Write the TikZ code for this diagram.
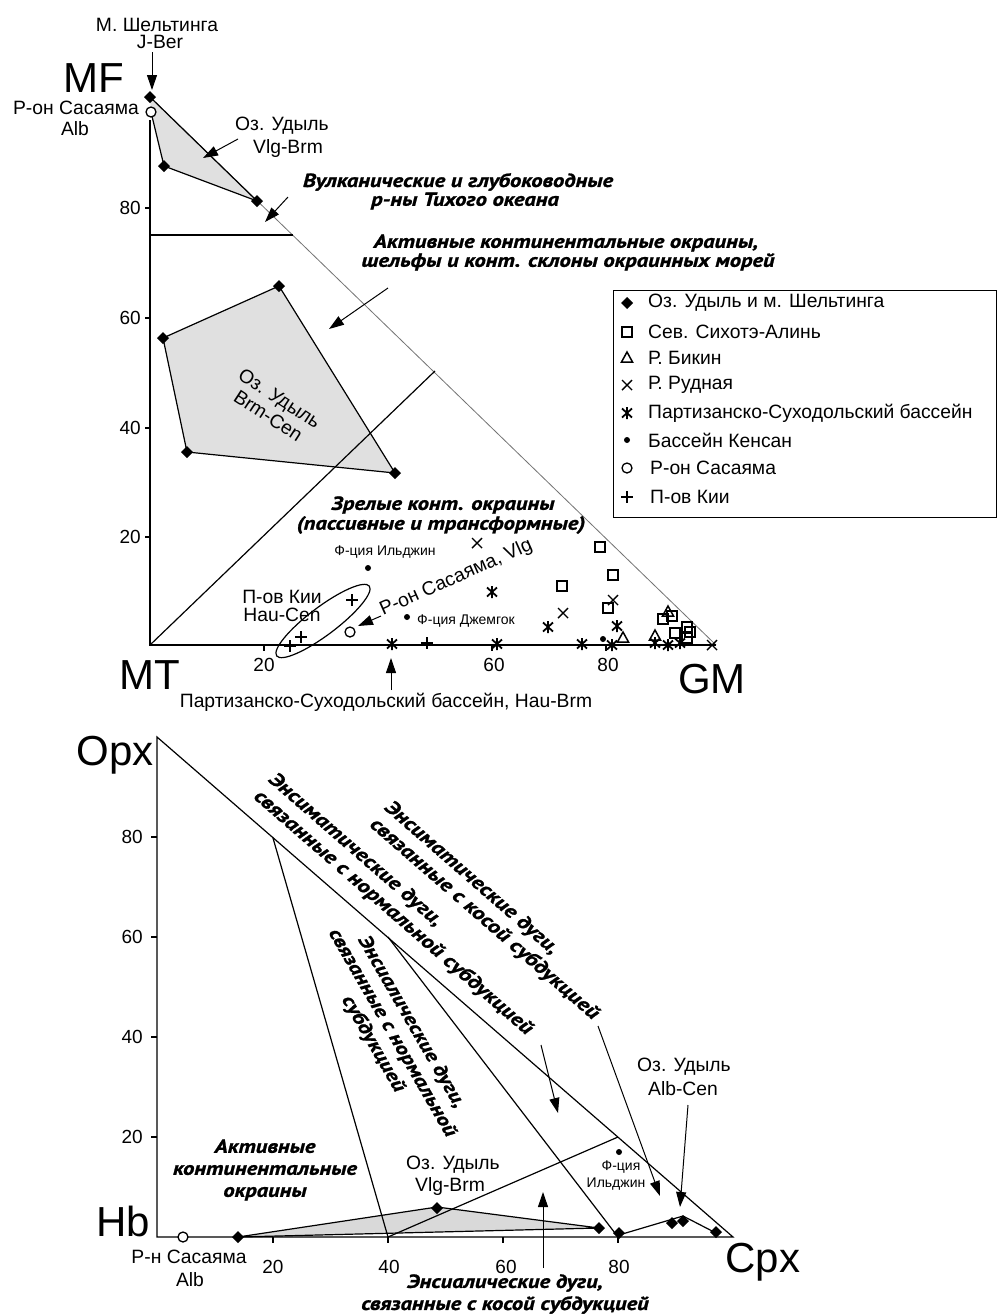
\documentclass[tikz,border=0pt]{standalone}
\usepackage{fontspec}
\setmainfont{Liberation Sans}
\newfontfamily\bifont[FakeStretch=1.19,FakeBold=1.2]{PT Sans}
\usetikzlibrary{arrows.meta}
\tikzset{
  lbl/.style={font=\fontsize{19.3}{21}\selectfont, inner sep=0pt},
  tk/.style={font=\fontsize{19}{21}\selectfont, inner sep=0pt},
  sml/.style={font=\fontsize{14}{16}\selectfont, inner sep=0pt},
  big/.style={font=\fontsize{42}{46}\selectfont, inner sep=0pt},
  bit/.style={font=\bifont\bfseries\itshape\fontsize{19}{22}\selectfont, inner sep=0pt},
  bitr/.style={font=\bifont\bfseries\itshape\fontsize{19.6}{22.5}\selectfont, inner sep=0pt},
  ax/.style={line width=1.2pt},
  hyp/.style={line width=0.8pt, black!55},
  poly/.style={line width=1.2pt},
  arr/.style={line width=1pt, -{Triangle[length=15pt,width=10pt]}},
  dmd/.pic={\fill (0,-6)--(6,0)--(0,6)--(-6,0)--cycle;},
  sqr/.pic={\draw[line width=1.6pt] (-5,-5) rectangle (5,5);},
  trg/.pic={\draw[line width=1.5pt] (0,-6)--(5.5,4)--(-5.5,4)--cycle;},
  crs/.pic={\draw[line width=1.4pt] (-5,-5)--(5,5) (-5,5)--(5,-5);},
  zhe/.pic={\draw[line width=1.8pt] (-5,-4.5)--(5,4.5) (-5,4.5)--(5,-4.5) (0,-6)--(0,6);},
  dt/.pic={\fill (0,0) circle[radius=3pt];},
  crc/.pic={\draw[line width=1.3pt, fill=white] (0,0) circle[radius=5pt];},
  pls/.pic={\draw[line width=1.5pt] (-6,0)--(6,0) (0,-6)--(0,6);},
}
\begin{document}
\begin{tikzpicture}[x=1pt,y=-1pt]
\fill[white] (0,0) rectangle (997,1315);
\useasboundingbox (0,0) rectangle (997,1315);

%================ TOP CHART =================
\fill[black!12] (151,112)--(150,97)--(257,201)--(164,166)--cycle;
\fill[black!12] (163,338)--(279,286)--(395,473)--(187,452)--cycle;
\draw[hyp] (150,97)--(716,645);
\draw[ax] (150,120)--(150,645)--(716,645);
\foreach \yy in {208,318,428,537} \draw[ax] (145,\yy)--(150,\yy);
\foreach \xx in {264,492,606} \draw[ax] (\xx,645)--(\xx,651);
\draw[ax] (150,235)--(293,235);
\draw[ax] (150,645)--(435,371);
\draw[poly] (150,97)--(257,201)--(164,166)--(151,112);
\draw[poly] (163,338)--(279,286)--(395,473)--(187,452)--cycle;
\draw[poly, rotate around={37:(323,621)}] (323,621) ellipse[x radius=58pt, y radius=14pt];

% markers
\foreach \p in {(150,97),(164,166),(257,201),(163,338),(279,286),(395,473),(187,452)} \pic at \p {dmd};
\foreach \p in {(151,112),(350,632)} \pic at \p {crc};
\foreach \p in {(290,646),(301,637),(352,600),(427,643)} \pic at \p {pls};
\foreach \p in {(368,568),(407,617),(603,639)} \pic at \p {dt};
\foreach \p in {(392,644),(492,592),(497,644),(548,627),(582,644),(612,645),(617,626),(655,643),(668,645),(680,643)} \pic at \p {zhe};
\foreach \p in {(477,543),(563,613),(613,600),(712,645)} \pic at \p {crs};
\foreach \p in {(600,547),(613,575),(562,586),(608,608),(663,619),(672,616),(675,633),(687,627),(690,632),(687,638)} \pic at \p {sqr};
\foreach \p in {(623,638),(668,612),(655,636)} \pic at \p {trg};

% tick labels
\node[tk,anchor=east] (ty80) at (141,208) {80};
\node[tk,anchor=east] (ty60) at (141,318) {60};
\node[tk,anchor=east] (ty40) at (141,428) {40};
\node[tk,anchor=east] (ty20) at (141,537) {20};
\node[tk] (tx20) at (264,665) {20};
\node[tk] (tx60) at (494,665) {60};
\node[tk] (tx80) at (608,665) {80};

% labels
\node[lbl] (shelt) at (157,25) {М. Шельтинга};
\node[lbl] (jber) at (160,42) {J-Ber};
\node[big] (mf) at (94,78) {MF};
\node[lbl,anchor=east] (sas1) at (139,108) {Р-он Сасаяма};
\node[lbl] (alb1) at (75,129) {Alb};
\node[lbl] (udv1) at (282,126) {Оз. Удыль};
\node[lbl] (udv2) at (288,149) {Vlg-Brm};
\node[bit] (vulk1) at (458,182) {Вулканические и глубоководные};
\node[bit] (vulk2) at (465,201) {р-ны Тихого океана};
\node[bit] (akt1) at (566,243) {Активные континентальные окраины,};
\node[bit] (akt2) at (568,262) {шельфы и конт. склоны окраинных морей};
\node[lbl,rotate=-33,align=center] (brm) at (274,407) {Оз. Удыль\\Brm-Cen};
\node[bit] (zr1) at (443,505) {Зрелые конт. окраины};
\node[bit] (zr2) at (441,525) {(пассивные и трансформные)};
\node[sml] (ild1) at (385,552) {Ф-ция Ильджин};
\node[lbl] (kii1) at (282,597) {П-ов Кии};
\node[lbl] (kii2) at (282,615) {Hau-Cen};
\node[lbl,rotate=24,anchor=base west] (sasv) at (383,616) {Р-он Сасаяма, Vlg};
\node[sml,anchor=west] (dzh) at (417,621) {Ф-ция Джемгок};
\node[big] (mt) at (150,675) {MT};
\node[big] (gm) at (712,679) {GM};
\node[lbl] (part) at (386,702) {Партизанско-Суходольский бассейн, Hau-Brm};

% arrows
\coordinate (a1s) at (152,52);  \coordinate (a1e) at (152,90);
\coordinate (a2s) at (238,139); \coordinate (a2e) at (203,158);
\coordinate (a3s) at (288,197); \coordinate (a3e) at (265,222);
\coordinate (a4s) at (388,288); \coordinate (a4e) at (329,329);
\coordinate (a5s) at (381,616); \coordinate (a5e) at (358,626);
\coordinate (a6s) at (391,690); \coordinate (a6e) at (391,658);
\foreach \i in {1,...,6} \draw[arr] (a\i s)--(a\i e);

% legend
\draw[line width=1pt] (613,290) rectangle (996,517);
\pic at (627,303) {dmd};
\pic at (627,332) {sqr};
\pic at (627,358) {trg};
\pic at (627,385) {crs};
\pic at (627,413) {zhe};
\pic at (627,440) {dt};
\pic at (627,468) {crc};
\pic at (627,497) {pls};
\node[lbl,anchor=west] (lg1) at (648,303) {Оз. Удыль и м. Шельтинга};
\node[lbl,anchor=west] (lg2) at (648,332) {Сев. Сихотэ-Алинь};
\node[lbl,anchor=west] (lg3) at (648,358) {Р. Бикин};
\node[lbl,anchor=west] (lg4) at (648,385) {Р. Рудная};
\node[lbl,anchor=west] (lg5) at (648,413) {Партизанско-Суходольский бассейн};
\node[lbl,anchor=west] (lg6) at (648,440) {Бассейн Кенсан};
\node[lbl,anchor=west] (lg7) at (650,468) {Р-он Сасаяма};
\node[lbl,anchor=west] (lg8) at (650,497) {П-ов Кии};

%================ BOTTOM CHART =================
\fill[black!15] (238,1237)--(437,1207)--(599,1228)--cycle;
\draw[ax] (157,737)--(157,1237)--(733,1237)--cycle;
\foreach \yy in {837,937,1037,1137} \draw[ax] (151,\yy)--(157,\yy);
\foreach \xx in {273,388,503,618} \draw[ax] (\xx,1237)--(\xx,1243);
\draw[ax] (272.7,837)--(388,1237);
\draw[ax] (388,937)--(618,1237);
\draw[ax] (388,1237)--(618,1137);
\draw[poly] (238,1237)--(437,1207)--(599,1228)--cycle;
\draw[poly] (619,1235)--(683,1216)--(716,1233);

\pic at (183,1237) {crc};
\foreach \p in {(238,1237),(437,1208),(599,1228),(619,1233),(672,1223),(683,1221),(716,1232)} \pic at \p {dmd};
\pic at (619,1152) {dt};

\node[tk,anchor=east] (by80) at (143,837) {80};
\node[tk,anchor=east] (by60) at (143,937) {60};
\node[tk,anchor=east] (by40) at (143,1037) {40};
\node[tk,anchor=east] (by20) at (143,1137) {20};
\node[tk] (bx20) at (273,1267) {20};
\node[tk] (bx40) at (389,1267) {40};
\node[tk] (bx60) at (506,1267) {60};
\node[tk] (bx80) at (619,1267) {80};

\node[big] (opx) at (115,755) {Opx};
\node[big] (hb) at (123,1221) {Hb};
\node[big] (cpx) at (763,1262) {Cpx};
\node[lbl] (sas2a) at (189,1257) {Р-н Сасаяма};
\node[lbl] (sas2b) at (190,1280) {Alb};
\node[bit,align=center] (akt3) at (265,1170) {Активные\\континентальные\\окраины};
\node[lbl] (udv3) at (453,1165) {Оз. Удыль};
\node[lbl] (udv4) at (450,1186) {Vlg-Brm};
\node[sml] (ild2) at (621,1167) {Ф-ция};
\node[sml] (ild3) at (616,1184) {Ильджин};
\node[lbl] (udac1) at (684,1067) {Оз. Удыль};
\node[lbl] (udac2) at (683,1089) {Alb-Cen};
\node[bit] (ensk1) at (505,1283) {Энсиалические дуги,};
\node[bit] (ensk2) at (505,1305) {связанные с косой субдукцией};
\node[bitr,rotate=-41,anchor=north west,align=left] (ensmn) at (277,770) {Энсиматические дуги,\\связанные с нормальной субдукцией};
\node[bitr,rotate=-41,anchor=north west,align=left] (ensmk) at (393,798) {Энсиматические дуги,\\связанные с косой субдукцией};
\node[bit,rotate=-60,align=center] (ensn) at (392,1033) {Энсиалические дуги,\\связанные с нормальной\\субдукцией};

\coordinate (b1s) at (541,1045); \coordinate (b1e) at (558,1113);
\coordinate (b2s) at (598,1026); \coordinate (b2e) at (660,1196);
\coordinate (b3s) at (688,1105); \coordinate (b3e) at (680,1207);
\coordinate (b4s) at (543,1268); \coordinate (b4e) at (543,1192);
\foreach \i in {1,...,4} \draw[arr] (b\i s)--(b\i e);
\end{tikzpicture}
\end{document}
